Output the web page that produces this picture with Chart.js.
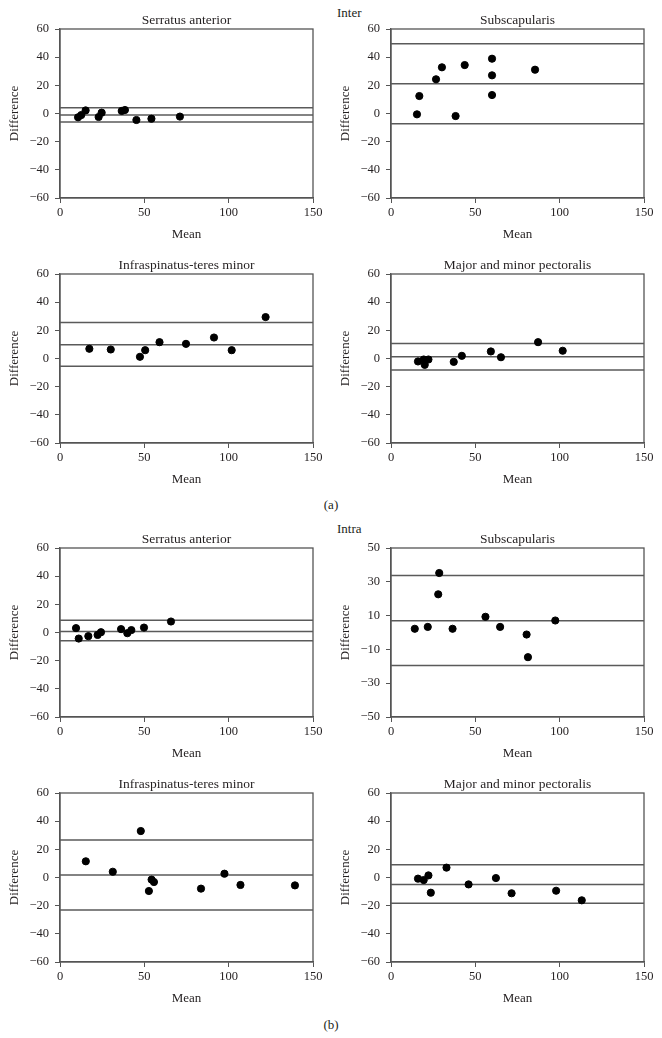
<!DOCTYPE html>
<html>
<head>
<meta charset="utf-8">
<script src="https://cdn.jsdelivr.net/npm/chart.js@4"></script>
<style>
  body { margin: 0; background: #fff; }
  #page { position: relative; width: 662px; height: 1038px; font-family: "Liberation Serif", serif; color: #231f20; }
  .panel { position: absolute; width: 331px; height: 245px; }
  .label { position: absolute; font-size: 13px; line-height: 16px; }
  .sub { width: 40px; text-align: center; }
</style>
</head>
<body>
<div id="page">
  <div class="label" style="left:337px; top:5px;">Inter</div>
  <div class="label sub" style="left:311px; top:497px;">(a)</div>
  <div class="label" style="left:337px; top:521px;">Intra</div>
  <div class="label sub" style="left:311px; top:1017px;">(b)</div>

  <div class="panel" style="left:0; top:0;"><canvas id="p1" width="331" height="245"></canvas></div>
  <div class="panel" style="left:331px; top:0;"><canvas id="p2" width="331" height="245"></canvas></div>
  <div class="panel" style="left:0; top:245px;"><canvas id="p3" width="331" height="245"></canvas></div>
  <div class="panel" style="left:331px; top:245px;"><canvas id="p4" width="331" height="245"></canvas></div>
  <div class="panel" style="left:0; top:519px;"><canvas id="p5" width="331" height="245"></canvas></div>
  <div class="panel" style="left:331px; top:519px;"><canvas id="p6" width="331" height="245"></canvas></div>
  <div class="panel" style="left:0; top:764px;"><canvas id="p7" width="331" height="245"></canvas></div>
  <div class="panel" style="left:331px; top:764px;"><canvas id="p8" width="331" height="245"></canvas></div>
</div>

<script>
// tick labels
var meanTicks = [0, 50, 100, 150];
var diffTicks = [-60, -40, -20, 0, 20, 40, 60];
var diffTicksSub = [-50, -30, -10, 10, 30, 50];

// Inter
var interSerratusMean = [10.7, 12.6, 15.2, 22.9, 24.7, 36.6, 38.5, 45.3, 54.2, 71.1];
var interSerratusDiff = [-2.7, -1.1, 2.2, -2.5, 0.6, 1.8, 2.5, -4.6, -3.7, -2.2];
var interSerratusLines = [4.1, -1.1, -6.0];

var interSubscapMean = [15.4, 16.8, 26.7, 30.2, 38.3, 43.7, 59.9, 59.9, 59.9, 85.4];
var interSubscapDiff = [-0.6, 12.4, 24.3, 32.8, -1.8, 34.4, 38.9, 27.1, 13.1, 31.1];
var interSubscapLines = [49.6, 21.2, -7.2];

var interInfraMean = [17.4, 30.1, 47.4, 50.5, 59.0, 74.7, 91.3, 101.8, 121.9];
var interInfraDiff = [6.9, 6.4, 1.2, 5.9, 11.6, 10.4, 14.9, 5.9, 29.4];
var interInfraLines = [25.6, 9.7, -5.5];

var interPectMean = [16.0, 19.4, 20.0, 22.2, 37.2, 42.0, 59.2, 65.2, 87.2, 101.8];
var interPectDiff = [-2.1, -0.7, -4.5, -0.7, -2.4, 1.9, 5.0, 0.9, 11.6, 5.5];
var interPectLines = [10.7, 1.2, -8.1];

// Intra
var intraSerratusMean = [9.5, 11.1, 16.8, 22.3, 24.3, 36.2, 39.9, 42.3, 49.8, 65.8];
var intraSerratusDiff = [3.1, -4.3, -2.6, -1.7, 0.2, 2.4, -0.5, 1.7, 3.5, 7.8];
var intraSerratusLines = [8.7, 0.7, -5.9];

var intraSubscapMean = [14.1, 21.8, 28.0, 28.6, 36.5, 56.0, 64.7, 80.4, 81.2, 97.4];
var intraSubscapDiff = [2.2, 3.3, 22.6, 35.2, 2.2, 9.3, 3.3, -1.2, -14.6, 7.1];
var intraSubscapLines = [33.7, 6.9, -19.5];

var intraInfraMean = [15.3, 31.3, 47.9, 52.7, 54.3, 55.7, 83.6, 97.5, 107.0, 139.3];
var intraInfraDiff = [11.5, 4.1, 33.0, -9.6, -1.5, -3.2, -7.9, 2.7, -5.3, -5.6];
var intraInfraLines = [26.6, 1.8, -23.1];

var intraPectMean = [16.0, 19.4, 22.2, 23.6, 32.9, 46.0, 62.2, 71.5, 97.9, 113.1];
var intraPectDiff = [-0.8, -1.8, 1.5, -10.8, 7.0, -4.9, -0.4, -11.2, -9.4, -16.2];
var intraPectLines = [9.1, -4.9, -18.2];

var textColor = '#231f20';
var axisColor = '#555555';
var tickFont = { family: 'Liberation Serif', size: 12.5 };
var axisFont = { family: 'Liberation Serif', size: 13 };

// marco completo alrededor del área del gráfico
var framePlugin = {
    id: 'frame',
    beforeDatasetsDraw: function (chart) {
        var a = chart.chartArea, ctx = chart.ctx;
        ctx.save();
        ctx.strokeStyle = axisColor;
        ctx.lineWidth = 1.3;
        ctx.strokeRect(a.left, a.top, a.right - a.left, a.bottom - a.top);
        ctx.restore();
    }
};

// título de cada panel
var titlePlugin = {
    id: 'panelTitle',
    afterDraw: function (chart, args, opts) {
        var a = chart.chartArea, ctx = chart.ctx;
        ctx.save();
        ctx.font = '13.5px "Liberation Serif"';
        ctx.fillStyle = textColor;
        ctx.textAlign = 'center';
        ctx.textBaseline = 'middle';
        ctx.fillText(opts.text, (a.left + a.right) / 2, a.top - 9);
        ctx.restore();
    }
};

function minus(v) {
    return String(v).replace('-', '\u2212');
}

function makePanel(id, title, means, diffs, lines, yTicks) {
    var points = means.map(function (m, i) { return { x: m, y: diffs[i] }; });
    var xMin = meanTicks[0], xMax = meanTicks[meanTicks.length - 1];
    var datasets = [{
        data: points,
        backgroundColor: '#000',
        borderColor: '#000',
        pointRadius: 3.6,
        pointHoverRadius: 3.6,
        showLine: false
    }];
    lines.forEach(function (v) {
        datasets.push({
            type: 'line',
            data: [{ x: xMin, y: v }, { x: xMax, y: v }],
            borderColor: '#5a5a5a',
            borderWidth: 1.5,
            pointRadius: 0,
            fill: false
        });
    });

    new Chart(document.getElementById(id), {
        type: 'scatter',
        data: { datasets: datasets },
        options: {
            responsive: false,
            animation: false,
            layout: { padding: { top: 29, right: 18, left: 0, bottom: 0 } },
            plugins: {
                legend: { display: false },
                tooltip: { enabled: false },
                panelTitle: { text: title }
            },
            scales: {
                x: {
                    type: 'linear',
                    min: xMin,
                    max: xMax,
                    afterBuildTicks: function (s) { s.ticks = meanTicks.map(function (v) { return { value: v }; }); },
                    afterFit: function (s) { s.height = 47; },
                    grid: { drawOnChartArea: false, tickLength: 5, color: axisColor },
                    border: { color: axisColor, width: 1.3 },
                    ticks: { font: tickFont, color: textColor, padding: 2, maxRotation: 0, callback: minus },
                    title: { display: true, text: 'Mean', font: axisFont, color: textColor, padding: { top: 0, bottom: 3 } }
                },
                y: {
                    type: 'linear',
                    min: yTicks[0],
                    max: yTicks[yTicks.length - 1],
                    afterBuildTicks: function (s) { s.ticks = yTicks.map(function (v) { return { value: v }; }); },
                    afterFit: function (s) { s.width = 60; },
                    grid: { drawOnChartArea: false, tickLength: 5, color: axisColor },
                    border: { color: axisColor, width: 1.3 },
                    ticks: { font: tickFont, color: textColor, padding: 6, callback: minus },
                    title: { display: true, text: 'Difference', font: axisFont, color: textColor, padding: { top: 7, bottom: 0 } }
                }
            }
        },
        plugins: [framePlugin, titlePlugin]
    });
}

makePanel('p1', 'Serratus anterior', interSerratusMean, interSerratusDiff, interSerratusLines, diffTicks);
makePanel('p2', 'Subscapularis', interSubscapMean, interSubscapDiff, interSubscapLines, diffTicks);
makePanel('p3', 'Infraspinatus-teres minor', interInfraMean, interInfraDiff, interInfraLines, diffTicks);
makePanel('p4', 'Major and minor pectoralis', interPectMean, interPectDiff, interPectLines, diffTicks);
makePanel('p5', 'Serratus anterior', intraSerratusMean, intraSerratusDiff, intraSerratusLines, diffTicks);
makePanel('p6', 'Subscapularis', intraSubscapMean, intraSubscapDiff, intraSubscapLines, diffTicksSub);
makePanel('p7', 'Infraspinatus-teres minor', intraInfraMean, intraInfraDiff, intraInfraLines, diffTicks);
makePanel('p8', 'Major and minor pectoralis', intraPectMean, intraPectDiff, intraPectLines, diffTicks);
</script>
</body>
</html>
